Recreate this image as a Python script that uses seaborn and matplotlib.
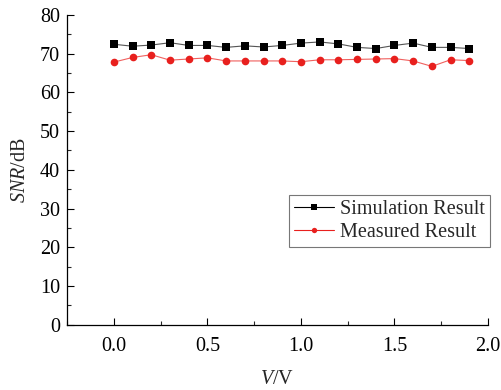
import numpy as np
import pandas as pd
import matplotlib
matplotlib.use('Agg')
import matplotlib.pyplot as plt
import seaborn as sns
from matplotlib.ticker import MultipleLocator, FormatStrFormatter

sns.set_style('ticks')
plt.rcParams['font.family'] = ['Liberation Serif', 'DejaVu Serif']
plt.rcParams['mathtext.fontset'] = 'custom'
plt.rcParams['mathtext.rm'] = 'Liberation Serif'
plt.rcParams['mathtext.it'] = 'Liberation Serif:italic'

# Datos
voltage = [0.0, 0.1, 0.2, 0.3, 0.4, 0.5, 0.6, 0.7, 0.8, 0.9,
           1.0, 1.1, 1.2, 1.3, 1.4, 1.5, 1.6, 1.7, 1.8, 1.9]
sim_snr = [72.4, 71.9, 72.2, 72.8, 72.1, 72.1, 71.6, 72.0, 71.7, 72.1,
           72.7, 73.0, 72.5, 71.6, 71.3, 72.1, 72.7, 71.6, 71.6, 71.3]
meas_snr = [67.8, 69.0, 69.7, 68.3, 68.6, 68.9, 68.1, 68.1, 68.1, 68.1,
            67.9, 68.4, 68.4, 68.5, 68.6, 68.7, 68.1, 66.7, 68.4, 68.2]
series = ['Simulation Result', 'Measured Result']

df = pd.DataFrame({
    'V': voltage * 2,
    'SNR': sim_snr + meas_snr,
    'serie': [series[0]] * len(voltage) + [series[1]] * len(voltage),
})

fig = plt.figure(figsize=(5.01, 3.90), dpi=100)
ax = fig.add_axes([0.134, 0.167, 0.840, 0.795])

sns.lineplot(data=df, x='V', y='SNR', hue='serie', style='serie',
             palette={series[0]: '#000000', series[1]: '#e8201e'},
             markers={series[0]: 's', series[1]: 'o'},
             dashes=False, markersize=5.5, markeredgewidth=0, linewidth=0.8,
             ax=ax, legend=True)

# lineas más claras, marcadores sólidos
lines = ax.get_lines()
lines[0].set_color('#555555'); lines[0].set_markerfacecolor('#000000')
lines[1].set_color('#f0605e'); lines[1].set_markerfacecolor('#e8201e')

ax.set_xlim(-0.25, 2.0)
ax.set_ylim(0, 80)
ax.xaxis.set_major_locator(MultipleLocator(0.5))
ax.xaxis.set_minor_locator(MultipleLocator(0.25))
ax.yaxis.set_major_locator(MultipleLocator(10))
ax.yaxis.set_minor_locator(MultipleLocator(5))
ax.xaxis.set_major_formatter(FormatStrFormatter('%.1f'))
ax.tick_params(which='major', direction='in', length=5, width=0.8, labelsize=14.5, colors='black')
ax.tick_params(axis='x', which='major', pad=9)
ax.tick_params(axis='y', which='major', pad=5)
ax.tick_params(which='minor', direction='in', length=3, width=0.8)
ax.set_xlabel(r'$\mathit{V}$/V', fontsize=14.5, labelpad=10)
ax.set_ylabel(r'$\mathit{SNR}$/dB', fontsize=14.5, labelpad=7)
for s in ['top', 'right']:
    ax.spines[s].set_visible(False)
for s in ['left', 'bottom']:
    ax.spines[s].set_color('black')
    ax.spines[s].set_linewidth(0.9)

leg = ax.legend(loc='center right', bbox_to_anchor=(1.005, 0.335), fontsize=14.5, frameon=True,
                fancybox=False, edgecolor='#555555', handlelength=2.0, handletextpad=0.3,
                borderpad=0.25, labelspacing=0.15, borderaxespad=0, markerscale=0.7)
leg.get_frame().set_linewidth(0.8)

plt.savefig('out.png', dpi=100)
